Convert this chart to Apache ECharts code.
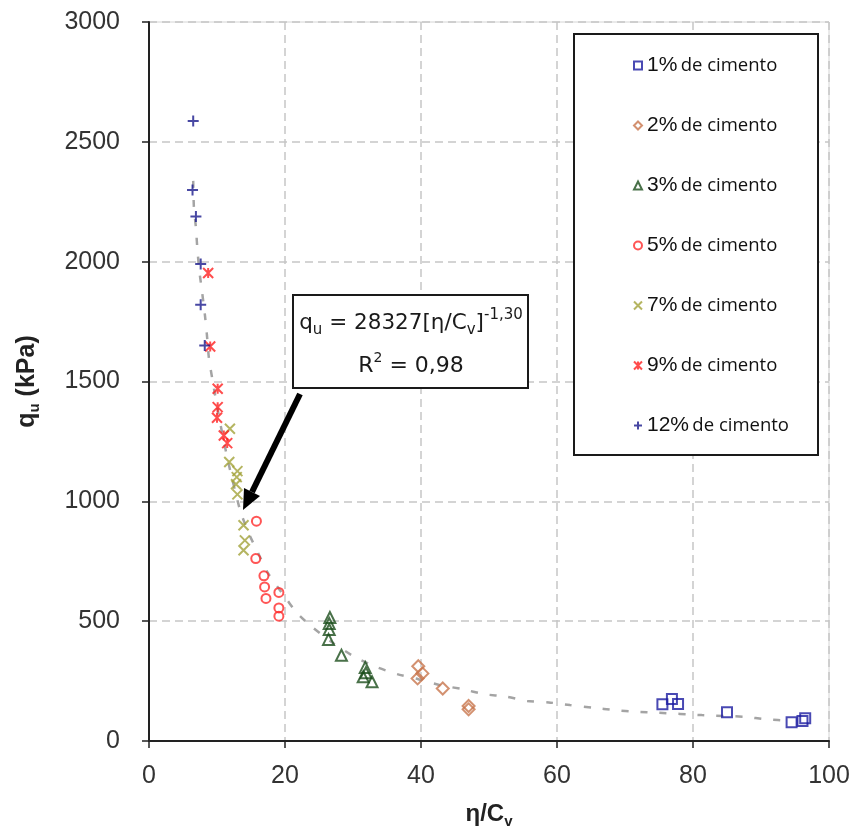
<!DOCTYPE html>
<html>
<head>
<meta charset="utf-8">
<script src="https://cdn.jsdelivr.net/npm/echarts@6/dist/echarts.min.js"></script>
<style>
  html, body { margin: 0; padding: 0; background: #fff; }
</style>
</head>
<body>
<div id="myChart" style="width: 859px; height: 834px;"></div>
<script>
  // valores: [eta/Cv, qu (kPa)]
  const cim1 = [[75.5, 153], [76.9, 175], [77.8, 154], [85.0, 120], [94.5, 78], [96.1, 83], [96.5, 95]];
  const cim2 = [[39.6, 312], [40.2, 282], [39.5, 261], [43.2, 219], [47.0, 146], [47.0, 132]];
  const cim3 = [[26.6, 515], [26.5, 490], [26.5, 465], [26.4, 424], [28.3, 358], [31.8, 307], [31.9, 285], [31.5, 268], [32.8, 247]];
  const cim5 = [[15.8, 917], [15.7, 761], [16.9, 689], [17.0, 643], [17.2, 595], [19.1, 620], [19.1, 555], [19.1, 521]];
  const cim7 = [[11.9, 1303], [11.8, 1164], [13.0, 1126], [12.9, 1101], [12.8, 1071], [13.0, 1029], [13.9, 900], [14.1, 837], [13.9, 796]];
  const cim9 = [[8.7, 1953], [9.0, 1646], [10.1, 1470], [10.1, 1393], [10.0, 1349], [11.0, 1275], [11.5, 1243]];
  const cim12 = [[6.5, 2587], [6.4, 2299], [6.9, 2188], [7.6, 1990], [7.6, 1820], [8.2, 1650]];
  const tendencia = [[6.5, 2337], [6.6, 2229], [6.9, 2142], [7.1, 2058], [7.4, 1962], [7.8, 1875], [8.2, 1783],
    [8.5, 1700], [8.8, 1600], [9.3, 1512], [10.4, 1337], [11.6, 1170], [13.4, 962], [14.6, 871], [16.0, 787],
    [17.5, 700], [19.6, 616], [21.8, 533], [24.0, 475], [27.1, 408], [30.3, 350], [33.5, 308], [36.5, 279],
    [39.6, 258], [42.8, 233], [46.0, 217], [49.4, 195], [52.5, 185], [55.6, 167], [58.8, 161], [61.9, 150],
    [65.3, 139], [68.5, 129], [71.6, 122], [74.9, 118], [81.3, 108], [87.6, 101], [90.8, 90], [94.3, 85]];

  const nomes = ['1% de cimento', '2% de cimento', '3% de cimento', '5% de cimento', '7% de cimento', '9% de cimento', '12% de cimento'];
  const dados = [cim1, cim2, cim3, cim5, cim7, cim9, cim12];
  const cores = ['#1c1ca0', '#c8764c', '#1b4d1b', '#ff2a2a', '#a3a33a', '#ff2020', '#1a1a8c'];
  const simbolos = ['rect', 'diamond', 'triangle', 'circle',
    'path://M0,0L10,10M10,0L0,10',
    'path://M0,0L10,10M10,0L0,10M5,0L5,10',
    'path://M5,0L5,10M0,5L10,5'];
  const tamanhos = [10, 12, 11, 9, 10, 10, 11];

  const myChart = echarts.init(document.getElementById('myChart'));

  const series = [{
    name: 'tendencia',
    type: 'line',
    data: tendencia,
    showSymbol: false,
    smooth: 0.2,
    z: 1,
    silent: true,
    lineStyle: { color: '#a4a4a4', width: 2.5, type: [7, 12] }
  }];
  nomes.forEach((n, i) => {
    series.push({
      name: n,
      type: 'scatter',
      data: dados[i],
      symbol: simbolos[i],
      symbolSize: tamanhos[i],
      z: 3,
      itemStyle: { color: 'rgba(0,0,0,0)', borderColor: cores[i], borderWidth: 2 }
    });
  });

  const eixoTxt = { fontFamily: 'Liberation Sans, Arial', fontSize: 25, color: '#333' };

  myChart.setOption({
    animation: false,
    grid: {
      left: 149, right: 30, top: 22, bottom: 93,
      show: true, borderColor: '#d4d4d4', borderWidth: 1
    },
    xAxis: {
      type: 'value', min: 0, max: 100, interval: 20,
      name: '{a|η/C}{s|v}',
      nameLocation: 'middle',
      nameGap: 58,
      nameTextStyle: {
        rich: {
          a: { fontFamily: 'Liberation Sans, Arial', fontSize: 24, fontWeight: 'bold', color: '#222', lineHeight: 30 },
          s: { fontFamily: 'Liberation Sans, Arial', fontSize: 15, fontWeight: 'bold', color: '#222', lineHeight: 16, verticalAlign: 'bottom' }
        }
      },
      axisLine: { lineStyle: { color: '#222', width: 2 } },
      axisTick: { show: true, inside: false, length: 7, lineStyle: { color: '#222', width: 1.5 } },
      axisLabel: Object.assign({ margin: 23 }, eixoTxt),
      splitLine: { show: true, lineStyle: { type: [8, 5], color: '#c6c6c6', width: 1.5 } }
    },
    yAxis: {
      type: 'value', min: 0, max: 3000, interval: 500,
      name: '{a|q}{s|u}{a| (kPa)}',
      nameLocation: 'middle',
      nameRotate: 90,
      nameGap: 107,
      nameTextStyle: {
        rich: {
          a: { fontFamily: 'Liberation Sans, Arial', fontSize: 25, fontWeight: 'bold', color: '#222', lineHeight: 30 },
          s: { fontFamily: 'Liberation Sans, Arial', fontSize: 15, fontWeight: 'bold', color: '#222', lineHeight: 16, verticalAlign: 'bottom' }
        }
      },
      axisLine: { show: true, lineStyle: { color: '#222', width: 2 } },
      axisTick: { show: true, inside: false, length: 7, lineStyle: { color: '#222', width: 1.5 } },
      axisLabel: Object.assign({ margin: 29, formatter: v => String(v) }, eixoTxt),
      splitLine: { show: true, lineStyle: { type: [8, 5], color: '#c6c6c6', width: 1.5 } }
    },
    legend: {
      data: nomes,
      orient: 'vertical',
      left: 628,
      top: 50,
      itemGap: 39,
      itemWidth: 8,
      itemHeight: 8,
      z: 20,
      selectedMode: false,
      formatter: n => {
        const p = n.split(' ');
        return '{a|' + p[0] + '} {b|' + p.slice(1).join(' ') + '}';
      },
      textStyle: {
        rich: {
          a: { fontFamily: 'Liberation Sans, Arial', fontSize: 21, color: '#111', lineHeight: 22 },
          b: { fontFamily: 'Open Sans, Noto Sans', fontSize: 18.5, color: '#111', lineHeight: 22 }
        }
      }
    },
    graphic: [
      {
        type: 'rect', z: 15,
        shape: { x: 574, y: 34, width: 244, height: 421 },
        style: { fill: '#fff', stroke: '#1a1a1a', lineWidth: 2 }
      },
      {
        type: 'rect', z: 15,
        shape: { x: 293, y: 295, width: 235, height: 93 },
        style: { fill: '#fff', stroke: '#1a1a1a', lineWidth: 2 }
      },
      {
        type: 'text', z: 16,
        x: 411, y: 323,
        style: {
          text: '{a|q}{s|u}{a| = 28327[η/C}{s|v}{a|]}{p|-1,30}',
          align: 'center', verticalAlign: 'middle',
          rich: {
            a: { fontFamily: 'DejaVu Sans', fontSize: 21.5, fill: '#1a1a1a', lineHeight: 30 },
            s: { fontFamily: 'DejaVu Sans', fontSize: 15, fill: '#1a1a1a', lineHeight: 14, verticalAlign: 'bottom' },
            p: { fontFamily: 'DejaVu Sans', fontSize: 15, fill: '#1a1a1a', lineHeight: 12, verticalAlign: 'top' }
          }
        }
      },
      {
        type: 'text', z: 16,
        x: 411, y: 366,
        style: {
          text: '{a|R}{p|2}{a| = 0,98}',
          align: 'center', verticalAlign: 'middle',
          rich: {
            a: { fontFamily: 'DejaVu Sans', fontSize: 22, fill: '#1a1a1a', lineHeight: 30 },
            p: { fontFamily: 'DejaVu Sans', fontSize: 14, fill: '#1a1a1a', lineHeight: 14, verticalAlign: 'top' }
          }
        }
      },
      {
        type: 'line', z: 16,
        shape: { x1: 300, y1: 394, x2: 252, y2: 492 },
        style: { stroke: '#000', lineWidth: 6 }
      },
      {
        type: 'polygon', z: 16,
        shape: { points: [[243, 510], [260, 496], [244, 488]] },
        style: { fill: '#000' }
      }
    ],
    series: series
  });
</script>
</body>
</html>
